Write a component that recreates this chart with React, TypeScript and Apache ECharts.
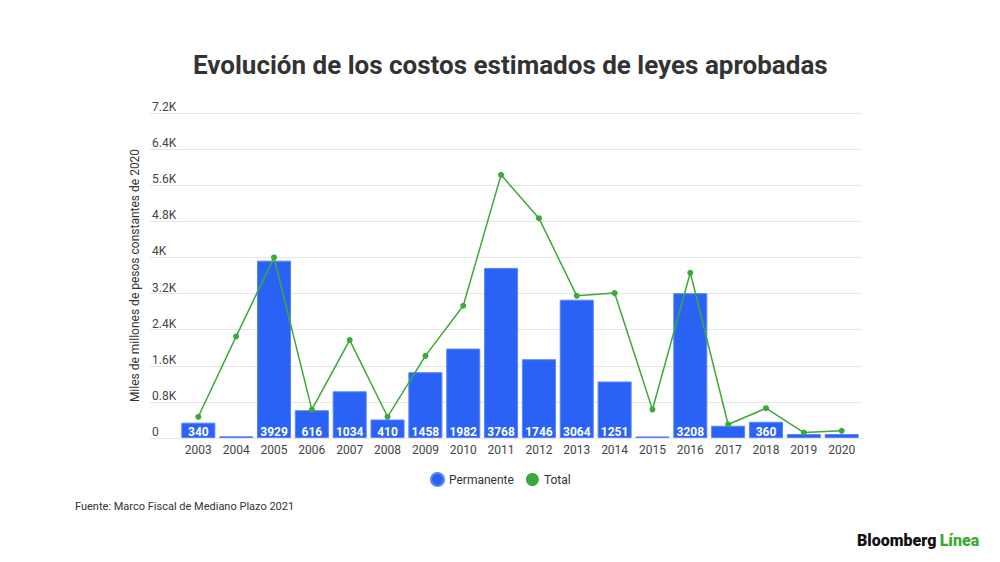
import React, { useEffect, useRef } from "react";
import * as echarts from "echarts";

const years = ["2003", "2004", "2005", "2006", "2007", "2008", "2009", "2010", "2011", "2012", "2013", "2014", "2015", "2016", "2017", "2018", "2019", "2020"];
const permanente = [340, 38, 3929, 616, 1034, 410, 1458, 1982, 3768, 1746, 3064, 1251, 35, 3208, 272, 360, 90, 90];
const total = [470, 2250, 4000, 630, 2170, 470, 1820, 2930, 5830, 4870, 3150, 3210, 630, 3660, 300, 660, 120, 160];

const TITLE = "Evolución de los costos estimados de leyes aprobadas";
const Y_NAME = "Miles de millones de pesos constantes de 2020";
const SOURCE = "Fuente: Marco Fiscal de Mediano Plazo 2021";

const BLUE = "#2962F5";
const GREEN = "#3EA83A";
const FONT = "Roboto";

export default function App() {
  const ref = useRef<HTMLDivElement>(null);
  useEffect(() => {
    if (!ref.current) return;
    const chart = echarts.init(ref.current, null, { renderer: "svg" });
    chart.setOption({
      animation: false,
      backgroundColor: "#ffffff",
      textStyle: { fontFamily: FONT },
      title: {
        text: TITLE,
        left: 188,
        top: 47,
        textStyle: { fontFamily: FONT, fontSize: 26, fontWeight: "bold", color: "#333333" },
      },
      legend: {
        bottom: 70,
        left: 425,
        icon: "circle",
        itemWidth: 13,
        itemHeight: 13,
        itemGap: 12,
        textStyle: { fontFamily: FONT, fontSize: 12, color: "#333333" },
        data: ["Permanente", "Total"],
      },
      grid: [
        { left: 150, right: 138, top: 113, bottom: 124 },
        { left: 179.4, right: 139.4, top: 113, bottom: 124 },
      ],
      xAxis: [
        { type: "category", gridIndex: 0, show: false, data: years },
        {
          type: "category",
          gridIndex: 1,
          data: years,
          axisLine: { show: false },
          axisTick: { show: false },
          axisLabel: { fontFamily: FONT, fontSize: 12, color: "#444444", margin: 6 },
        },
      ],
      yAxis: [
        {
          type: "value",
          gridIndex: 0,
          min: 0,
          max: 7200,
          interval: 800,
          name: Y_NAME,
          nameLocation: "middle",
          nameGap: 1,
          nameTextStyle: { fontFamily: FONT, fontSize: 12, color: "#333333" },
          axisLine: { show: false },
          axisTick: { show: false },
          splitLine: { lineStyle: { color: "#e6e6e6", width: 1 } },
          axisLabel: {
            inside: true,
            margin: 2,
            verticalAlign: "bottom",
            padding: [0, 0, 0, 0],
            fontFamily: FONT,
            fontSize: 12,
            color: "#444444",
            formatter: (v: number) => (v === 0 ? "0" : `${Math.round(v / 100) / 10}K`),
          },
        },
        { type: "value", gridIndex: 1, min: 0, max: 7200, interval: 800, show: false },
      ],
      series: [
        {
          name: "Permanente",
          type: "bar",
          xAxisIndex: 1,
          yAxisIndex: 1,
          data: permanente,
          barCategoryGap: "10%",
          itemStyle: { color: BLUE, borderColor: "#5b86f7", borderWidth: 1 },
          label: {
            show: true,
            position: "insideBottom",
            distance: 0,
            color: "#ffffff",
            fontFamily: FONT,
            fontSize: 12,
            fontWeight: "bold",
            formatter: (p: any) => (p.value >= 300 ? String(p.value) : ""),
          },
        },
        {
          name: "Total",
          type: "line",
          xAxisIndex: 1,
          yAxisIndex: 1,
          data: total,
          z: 5,
          symbol: "circle",
          symbolSize: 6,
          lineStyle: { color: GREEN, width: 1.5 },
          itemStyle: { color: GREEN },
        },
      ],
      graphic: [
        {
          type: "text",
          left: 75,
          top: 501,
          style: { text: SOURCE, fontFamily: FONT, fontSize: 11, fill: "#333333" },
        },
        {
          type: "text",
          left: 857,
          top: 532,
          style: {
            text: "{a|Bloomberg} {b|Línea}",
            rich: {
              a: { fontFamily: FONT, fontSize: 16, fontWeight: 900, fill: "#111111" },
              b: { fontFamily: FONT, fontSize: 16, fontWeight: 900, fill: "#3EAA35" },
            },
          },
        },
      ],
    });
    return () => chart.dispose();
  }, []);
  return <div ref={ref} style={{ position: "fixed", left: 0, top: 0, width: 1000, height: 562 }} />;
}
